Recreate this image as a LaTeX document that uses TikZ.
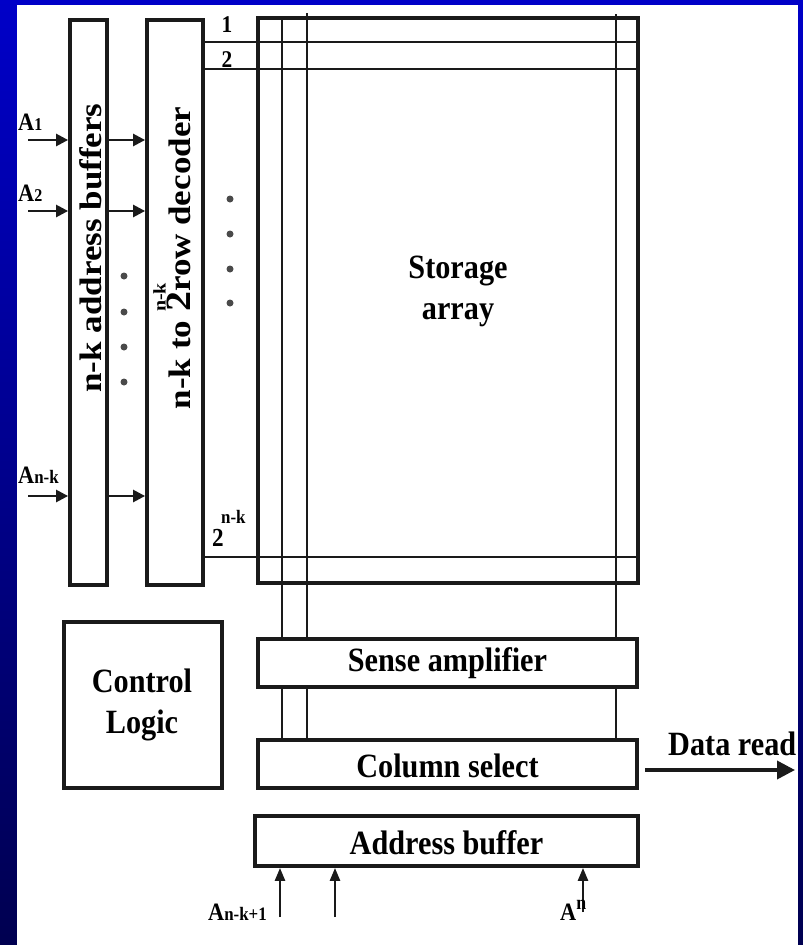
\documentclass[tikz,border=0pt]{standalone}
\usepackage{fontspec}
\setmainfont{Liberation Serif}[FakeStretch=0.89]
\newfontfamily\rotfont{Liberation Serif}
\usetikzlibrary{arrows.meta}
\definecolor{ink}{HTML}{1A1A1A}
\definecolor{dotgray}{HTML}{4A4A4A}
\definecolor{bluetop}{HTML}{0000C8}
\definecolor{bluebot}{HTML}{000050}
\begin{document}
\begin{tikzpicture}[x=1pt,y=-1pt,
  box/.style={draw=ink, line width=3.8pt, rectangle, inner sep=0pt},
  lab/.style={font=\bfseries\fontsize{34}{41}\selectfont, align=center, inner sep=0pt},
  small/.style={font=\bfseries\fontsize{24}{24}\selectfont, inner sep=0pt},
  rot/.style={rotate=90, font=\rotfont\bfseries\fontsize{35}{40}\selectfont, inner sep=0pt},
  wire/.style={draw=ink, line width=2.6pt},
  hwire/.style={draw=ink, line width=2.3pt},
  arr/.style={draw=ink, line width=2.5pt, -{Triangle[length=12pt,width=12pt]}},
  arrup/.style={draw=ink, line width=2.5pt, -{Triangle[length=13pt,width=10pt]}},
  arrbig/.style={draw=ink, line width=3.6pt, -{Triangle[length=18pt,width=18pt]}},
  dot/.style={fill=dotgray}
]
\useasboundingbox (0,0) rectangle (803,945);
% background
\shade[top color=bluetop, bottom color=bluebot] (0,0) rectangle (803,945);
\fill[white] (17,5) rectangle (798,945);

% boxes
\node[box, minimum width=37pt, minimum height=565pt] (buf) at (88.5,302.5) {};
\node[box, minimum width=56pt, minimum height=565pt] (dec) at (175,302.5) {};
\node[box, minimum width=380pt, minimum height=565pt] (arr) at (448,300.5) {};
\node[box, minimum width=379pt, minimum height=48pt] (sense) at (447.5,663) {};
\node[box, minimum width=379pt, minimum height=48pt] (col) at (447.5,764) {};
\node[box, minimum width=383pt, minimum height=50pt] (addr) at (446.5,841) {};
\node[box, line width=3.4pt, minimum width=158pt, minimum height=166pt] (ctl) at (143,705) {};

% texts
\node[lab] (tsa) at (458,291) {Storage\\array};
\node[lab] (tctl) at (142,705) {Control\\Logic};
\node[lab] (tsense) at (447.5,663) {Sense amplifier};
\node[lab] (tcol) at (447.5,766) {Column select};
\node[lab] (taddr) at (446.5,843) {Address buffer};
\node[lab, anchor=base west] (tdata) at (668,755) {Data read};
\node[rot] (tbuf) at (91,248) {\scalebox{1}[0.89]{n-k address buffers}};
\node[rot, anchor=base] (tdec) at (190,258) {\scalebox{1}[0.89]{n-k to \rlap{\raisebox{0.78em}{\fontsize{20}{20}\selectfont n-k}}{\fontsize{40}{40}\selectfont 2}row decoder}};

% row lines
\coordinate (r1) at (0,42);
\coordinate (r2) at (0,69);
\coordinate (r3) at (0,557);
\draw[hwire] (dec.east |- r1) -- (arr.east |- r1);
\draw[hwire] (dec.east |- r2) -- (arr.east |- r2);
\draw[hwire] (dec.east |- r3) -- (arr.east |- r3);
\node[small, anchor=base] (n1) at (227,32) {1};
\node[small, anchor=base] (n2) at (227,67) {2};
\node[font=\bfseries\fontsize{26}{26}\selectfont, inner sep=0pt, anchor=base west] (n3) at (212,546) {2};
\node[font=\bfseries\fontsize{19}{19}\selectfont, inner sep=0pt, anchor=base west] (n3s) at (221,523) {n-k};

% column lines
\coordinate (c1) at (282,18);
\coordinate (c2) at (307,13);
\coordinate (c3) at (616,14);
\draw[wire] (c1) -- (c1 |- sense.north);
\draw[wire] (c2) -- (c2 |- sense.north);
\draw[wire] (c3) -- (c3 |- sense.north);
\draw[wire] (c1 |- sense.south) -- (c1 |- col.north);
\draw[wire] (c2 |- sense.south) -- (c2 |- col.north);
\draw[wire] (c3 |- sense.south) -- (c3 |- col.north);

% input arrows
\coordinate (a1) at (28,140);
\coordinate (a2) at (28,211);
\coordinate (a3) at (28,496);
\draw[arr] (a1) -- (a1 -| buf.west);
\draw[arr] (a2) -- (a2 -| buf.west);
\draw[arr] (a3) -- (a3 -| buf.west);
\draw[arr] (buf.east |- a1) -- (dec.west |- a1);
\draw[arr] (buf.east |- a2) -- (dec.west |- a2);
\draw[arr] (buf.east |- a3) -- (dec.west |- a3);
\node[inner sep=0pt, anchor=base west, font=\bfseries] (la1) at (18,130) {\fontsize{25}{25}\selectfont A\fontsize{18}{18}\selectfont 1};
\node[inner sep=0pt, anchor=base west, font=\bfseries] (la2) at (18,201) {\fontsize{25}{25}\selectfont A\fontsize{18}{18}\selectfont 2};
\node[inner sep=0pt, anchor=base west, font=\bfseries] (la3) at (18,483) {\fontsize{25}{25}\selectfont A\fontsize{19}{19}\selectfont n-k};

% dots
\foreach \y in {276,312,347,382} \fill[dot] (124,\y) circle (3.5pt);
\foreach \y in {199,234,269,303} \fill[dot] (230,\y) circle (3.5pt);

% bottom arrows
\coordinate (b1) at (280,917);
\coordinate (b2) at (335,917);
\coordinate (b3) at (583,912);
\draw[arrup] (b1) -- (b1 |- addr.south);
\draw[arrup] (b2) -- (b2 |- addr.south);
\draw[arrup] (b3) -- (b3 |- addr.south);
\node[inner sep=0pt, anchor=base west, font=\bfseries] (lb1) at (208,920) {\fontsize{25}{25}\selectfont A\fontsize{19}{19}\selectfont n-k+1};
\node[inner sep=0pt, anchor=base west, font=\bfseries] (lb3) at (560,920) {\fontsize{25}{25}\selectfont A\raisebox{11pt}{\fontsize{20}{20}\selectfont n}};

% data read arrow
\coordinate (d1) at (645,770);
\coordinate (d2) at (795,770);
\draw[arrbig] (d1) -- (d2);
\end{tikzpicture}
\end{document}
